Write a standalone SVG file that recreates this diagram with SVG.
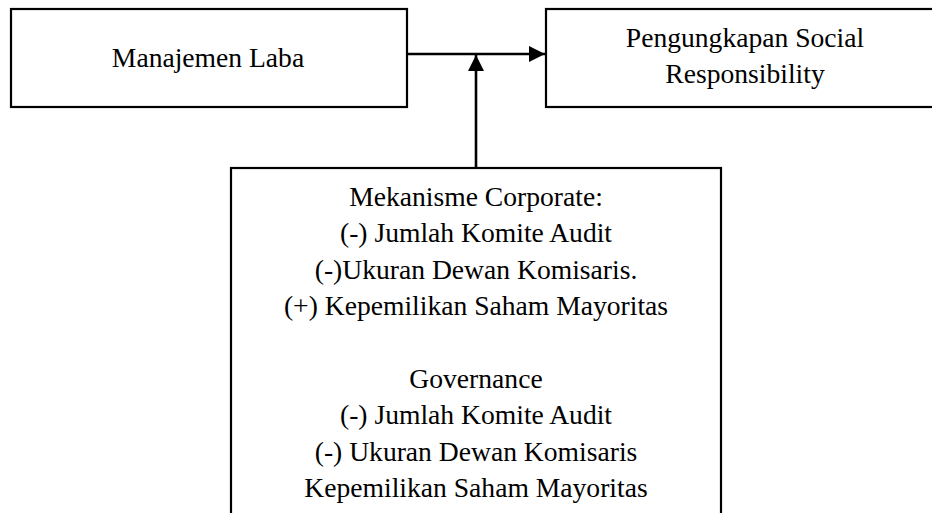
<svg xmlns="http://www.w3.org/2000/svg" width="932" height="513" viewBox="0 0 932 513">
<style>
.box{fill:#fff;stroke:#000;stroke-width:2.2}
.t{font-family:"Liberation Serif","Times New Roman",serif;font-size:27.6px;fill:#000;text-anchor:middle}
.c{stroke:#000;stroke-width:2.6;fill:none}
</style>
<defs>
<marker id="ah" viewBox="0 0 16 16" refX="16" refY="8" markerWidth="16" markerHeight="16" markerUnits="userSpaceOnUse" orient="auto">
<path d="M0,0 L16,8 L0,16 Z" fill="#000"/>
</marker>
</defs>
<rect width="932" height="513" fill="#fff"/>
<g id="connectors">
<line class="c" x1="407" y1="54" x2="545" y2="54" marker-end="url(#ah)"/>
<line class="c" x1="476" y1="168" x2="476" y2="55" marker-end="url(#ah)"/>
</g>
<g id="manajemen-laba">
<rect class="box" x="11" y="9" width="396" height="98"/>
<text class="t" x="208" y="67">Manajemen Laba</text>
</g>
<g id="pengungkapan">
<rect class="box" x="546" y="9" width="400" height="98"/>
<text class="t" x="745" y="46.5">Pengungkapan Social</text>
<text class="t" x="745" y="83">Responsibility</text>
</g>
<g id="mekanisme">
<rect class="box" x="231" y="168" width="490" height="360"/>
<text class="t" x="476" y="205.5">Mekanisme Corporate:</text>
<text class="t" x="476" y="242">(-) Jumlah Komite Audit</text>
<text class="t" x="476" y="278.5">(-)Ukuran Dewan Komisaris.</text>
<text class="t" x="476" y="315">(+) Kepemilikan Saham Mayoritas</text>
<text class="t" x="476" y="387.5">Governance</text>
<text class="t" x="476" y="424">(-) Jumlah Komite Audit</text>
<text class="t" x="476" y="460.5">(-) Ukuran Dewan Komisaris</text>
<text class="t" x="476" y="497">Kepemilikan Saham Mayoritas</text>
</g>
</svg>
